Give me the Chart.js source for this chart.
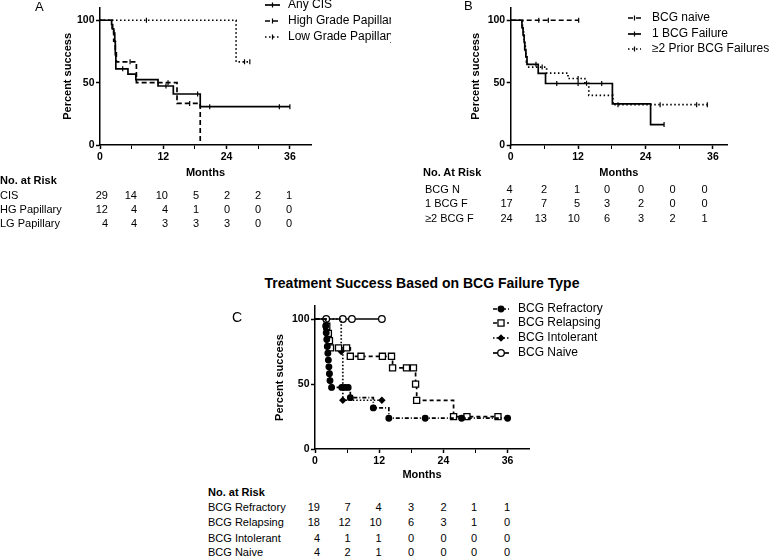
<!DOCTYPE html>
<html>
<head>
<meta charset="utf-8">
<script src="https://cdn.jsdelivr.net/npm/chart.js@4.4.0/dist/chart.umd.min.js"></script>
<style>
  body { margin: 0; background: #fff; }
  #page { position: relative; width: 769px; height: 558px; overflow: hidden; background: #fff;
          font-family: Arial, "Liberation Sans", sans-serif; color: #000; }
  canvas { position: absolute; }
  .t { position: absolute; white-space: nowrap; line-height: 1; transform: translateY(-50%); }
  .n { position: absolute; white-space: nowrap; line-height: 1; transform: translate(-100%, -50%); }
  .b { font-weight: bold; }
</style>
</head>
<body>
<div id="page">
  <canvas id="chartA" width="391" height="182" style="left:0;top:0"></canvas>
  <canvas id="chartB" width="378" height="182" style="left:391px;top:0"></canvas>
  <canvas id="chartC" width="420" height="190" style="left:200px;top:295px"></canvas>
</div>
<script>
// ---- data (months, percent success) ----

// panel A
var cisMonths = [0, 2.2, 2.4, 2.6, 2.8, 2.9, 3.0, 5.3, 6.8, 11.0, 13.9, 19.0, 36];
var cisPct    = [100, 96.6, 93.1, 89.7, 82.8, 72.4, 61.1, 56.9, 52.4, 47.3, 40.9, 30.7, 30.7];
var cisCensMonths = [4.3, 12.5, 18.5, 20.8, 34, 36];
var cisCensPct    = [61.1, 47.3, 40.9, 30.7, 30.7, 30.7];

var hgMonths = [0, 2.3, 2.6, 2.9, 3.1, 6.9, 14.6, 19.0];
var hgPct    = [100, 91.7, 83.3, 75.0, 66.7, 50.0, 33.3, 0];
var hgCensMonths = [5.7, 12.9, 17.0];
var hgCensPct    = [66.7, 50.0, 33.3];

var lgMonths = [0, 25.8, 28.4];
var lgPct    = [100, 66.7, 66.7];
var lgCensMonths = [8.8, 27.4, 28.4];
var lgCensPct    = [100, 66.7, 66.7];

// panel B
var naiveBMonths = [0, 12.1];
var naiveBPct    = [100, 100];
var naiveBCensMonths = [5.0, 6.7, 12.1];
var naiveBCensPct    = [100, 100, 100];

var oneFMonths = [0, 2.0, 2.2, 2.4, 2.5, 2.7, 2.9, 4.9, 6.2, 18.1, 24.9, 27.3];
var oneFPct    = [100, 94.1, 88.2, 82.4, 76.5, 70.6, 64.7, 57.5, 49.3, 32.9, 16.4, 16.4];
var oneFCensMonths = [4.5, 8.2, 12.0, 16.2, 27.3];
var oneFCensPct    = [64.7, 49.3, 49.3, 49.3, 16.4];

var twoFMonths = [0, 2.1, 2.2, 2.3, 2.4, 2.5, 2.6, 2.7, 2.8, 3.0, 6.4, 10.2, 13.2, 13.9, 18.2, 35];
var twoFPct    = [100, 95.8, 91.7, 87.5, 83.3, 79.2, 75.0, 70.8, 66.7, 62.5, 57.7, 53.3, 49.5, 39.8, 32.3, 32.3];
var twoFCensMonths = [5.6, 12.0, 13.5, 19.1, 26.6, 33.1, 35];
var twoFCensPct    = [62.5, 53.3, 49.5, 32.3, 32.3, 32.3, 32.3];

// panel C
var refrMonths = [0, 2.0, 2.1, 2.2, 2.3, 2.4, 2.5, 2.6, 2.7, 2.8, 3.1, 5.0, 5.6, 6.2, 6.6, 10.9, 13.8, 20.6, 27.4, 36.0];
var refrPct    = [100, 94.7, 89.5, 84.2, 78.9, 73.7, 68.4, 63.2, 57.9, 52.6, 47.4, 47.4, 47.4, 47.4, 39.5, 31.6, 23.7, 23.7, 23.7, 23.7];

var relaMonths = [0, 2.2, 2.5, 2.7, 2.9, 4.4, 5.9, 6.6, 8.6, 12.6, 14.3, 14.5, 17.1, 18.4, 18.8, 19.0, 25.9, 28.4, 34.2];
var relaPct    = [100, 94.4, 88.9, 83.3, 77.8, 77.8, 77.8, 71.3, 71.3, 71.3, 71.3, 62.4, 62.4, 62.4, 49.9, 37.4, 24.9, 24.9, 24.9];

var intoMonths = [0, 4.9, 5.2, 12.5];
var intoPct    = [100, 75.0, 37.5, 37.5];

var naiveCMonths = [0, 2.1, 5.2, 6.9, 12.5];
var naiveCPct    = [100, 100, 100, 100, 100];

// axes
var monthTicks = [0, 6, 12, 18, 24, 30, 36];
var pctTicks = [0, 50, 100];

// number at risk tables
var riskLabelsA = ['CIS', 'HG Papillary', 'LG Papillary'];
var riskCIS = [29, 14, 10, 5, 2, 2, 1];
var riskHG  = [12, 4, 4, 1, 0, 0, 0];
var riskLG  = [4, 4, 3, 3, 3, 0, 0];

var riskLabelsB = ['BCG N', '1 BCG F', '\u22652 BCG F'];
var riskNaiveB = [4, 2, 1, 0, 0, 0, 0];
var riskOneF   = [17, 7, 5, 3, 2, 0, 0];
var riskTwoF   = [24, 13, 10, 6, 3, 2, 1];

var riskLabelsC = ['BCG Refractory', 'BCG Relapsing', 'BCG Intolerant', 'BCG Naive'];
var riskRefr  = [19, 7, 4, 3, 2, 1, 1];
var riskRela  = [18, 12, 10, 6, 3, 1, 0];
var riskInto  = [4, 1, 1, 0, 0, 0, 0];
var riskNaiveC = [4, 2, 1, 0, 0, 0, 0];

// ---- helpers ----
var FONT = 'Arial, "Liberation Sans", sans-serif';

function pts(xs, ys) {
  return xs.map(function (x, i) { return { x: x, y: ys[i] }; });
}

function curve(label, xs, ys, dash) {
  return {
    label: label, inLegend: true,
    data: pts(xs, ys), stepped: 'before', fill: false,
    borderColor: '#000', borderWidth: 1.7, borderDash: dash,
    pointRadius: 0
  };
}

function censors(xs, ys) {
  return {
    data: pts(xs, ys), showLine: false,
    pointStyle: 'line', pointRotation: 90, pointRadius: 2.5,
    pointBorderColor: '#000', pointBorderWidth: 1.2
  };
}

function marked(label, xs, ys, dash, style, r, fillCol) {
  var ds = curve(label, xs, ys, dash);
  ds.pointStyle = style;
  ds.pointRadius = function (c) { return c.dataIndex === 0 ? 0 : r; };
  ds.pointBackgroundColor = fillCol;
  ds.pointBorderColor = '#000';
  ds.pointBorderWidth = 1.3;
  ds.markR = r;
  return ds;
}

function drawMark(ctx, style, x, y, r, fillCol) {
  ctx.save();
  ctx.setLineDash([]);
  ctx.lineWidth = 1.3;
  ctx.strokeStyle = '#000';
  ctx.fillStyle = fillCol || '#000';
  ctx.beginPath();
  if (style === 'circle') {
    ctx.arc(x, y, r, 0, Math.PI * 2);
    ctx.fill(); ctx.stroke();
  } else if (style === 'rect') {
    var s = r * Math.SQRT1_2;
    ctx.rect(x - s, y - s, 2 * s, 2 * s);
    ctx.fill(); ctx.stroke();
  } else if (style === 'rectRot') {
    ctx.moveTo(x, y - r); ctx.lineTo(x + r, y); ctx.lineTo(x, y + r); ctx.lineTo(x - r, y);
    ctx.closePath(); ctx.fill(); ctx.stroke();
  } else {
    ctx.lineWidth = 1.2;
    ctx.moveTo(x, y - 2.5); ctx.lineTo(x, y + 2.5); ctx.stroke();
  }
  ctx.restore();
}

// legend drawn next to the plot, like the original figure
var kmLegend = {
  id: 'kmLegend',
  afterDraw: function (chart, args, opts) {
    var ctx = chart.ctx;
    var items = chart.data.datasets.filter(function (d) { return d.inLegend; });
    ctx.save();
    items.forEach(function (ds, i) {
      var y = opts.rows[i];
      ctx.strokeStyle = '#000';
      ctx.lineWidth = ds.borderWidth;
      ctx.setLineDash(ds.borderDash || []);
      ctx.beginPath();
      ctx.moveTo(opts.x0, y);
      ctx.lineTo(opts.x1, y);
      ctx.stroke();
      drawMark(ctx, ds.markR ? ds.pointStyle : 'tick', (opts.x0 + opts.x1) / 2, y, ds.markR, ds.pointBackgroundColor);
      ctx.fillStyle = '#000';
      ctx.font = '12px ' + FONT;
      ctx.textBaseline = 'middle';
      ctx.textAlign = 'left';
      ctx.fillText(ds.label, opts.tx, y);
    });
    ctx.restore();
  }
};

function kmOptions(box, legend) {
  var tickFont = { family: FONT, size: 10.5, weight: 'bold' };
  var titleFont = { family: FONT, size: 11, weight: 'bold' };
  return {
    responsive: false,
    animation: false,
    events: [],
    layout: { padding: { left: box.padLeft, top: box.top, right: box.padRight, bottom: 0 } },
    plugins: { legend: { display: false }, tooltip: { enabled: false }, kmLegend: legend },
    scales: {
      x: {
        type: 'linear', min: 0, max: box.xMax,
        afterBuildTicks: function (s) { s.ticks = monthTicks.map(function (v) { return { value: v }; }); },
        afterFit: function (s) { s.height = box.xHeight; },
        grid: { drawOnChartArea: false, color: '#000', tickLength: 4,
                tickWidth: function (c) { return c.tick && c.tick.value % 12 === 0 ? 1.5 : 1; } },
        border: { color: '#000', width: 1.5 },
        ticks: { color: '#000', font: tickFont, padding: 1.5, maxRotation: 0, autoSkip: false,
                 callback: function (v) { return v % 12 === 0 ? String(v) : ''; } },
        title: { display: true, text: 'Months', color: '#000', font: titleFont,
                 padding: { top: 0, bottom: box.monthsPad } }
      },
      y: {
        type: 'linear', min: 0, max: 110,
        afterBuildTicks: function (s) { s.ticks = pctTicks.map(function (v) { return { value: v }; }); },
        afterFit: function (s) { s.width = box.yWidth; },
        grid: { drawOnChartArea: false, color: '#000', tickLength: 4, tickWidth: 1.5 },
        border: { color: '#000', width: 1.5 },
        ticks: { color: '#000', font: tickFont, padding: 1.5 },
        title: { display: true, text: 'Percent success', color: '#000', font: titleFont,
                 padding: { top: 1, bottom: 0 } }
      }
    }
  };
}

// ---- panel A ----
new Chart(document.getElementById('chartA'), {
  type: 'line',
  data: { datasets: [
    curve('Any CIS', cisMonths, cisPct, []),
    curve('High Grade Papillary', hgMonths, hgPct, [5, 3]),
    curve('Low Grade Papillary', lgMonths, lgPct, [1.5, 2.5]),
    censors(cisCensMonths, cisCensPct),
    censors(hgCensMonths, hgCensPct),
    censors(lgCensMonths, lgCensPct)
  ] },
  options: kmOptions({ padLeft: 60.4, yWidth: 39.6, top: 5, padRight: 80, xHeight: 37, monthsPad: 2.9, xMax: 40 },
                     { x0: 265, x1: 280, tx: 288, rows: [5, 21, 37] }),
  plugins: [kmLegend]
});

// ---- panel B ----
new Chart(document.getElementById('chartB'), {
  type: 'line',
  data: { datasets: [
    curve('BCG naive', naiveBMonths, naiveBPct, [5, 3]),
    curve('1 BCG Failure', oneFMonths, oneFPct, []),
    curve('\u22652 Prior BCG Failures', twoFMonths, twoFPct, [1.5, 2.5]),
    censors(naiveBCensMonths, naiveBCensPct),
    censors(oneFCensMonths, oneFCensPct),
    censors(twoFCensMonths, twoFCensPct)
  ] },
  options: kmOptions({ padLeft: 77.4, yWidth: 42.3, top: 5, padRight: 42, xHeight: 37, monthsPad: 2.9, xMax: 38.5 },
                     { x0: 237, x1: 250, tx: 261, rows: [18, 34, 49] }),
  plugins: [kmLegend]
});

// ---- panel C ----
new Chart(document.getElementById('chartC'), {
  type: 'line',
  data: { datasets: [
    marked('BCG Refractory', refrMonths, refrPct, [4, 2, 1, 2], 'circle', 2.8, '#000'),
    marked('BCG Relapsing', relaMonths, relaPct, [4, 3], 'rect', 4.3, '#fff'),
    marked('BCG Intolerant', intoMonths, intoPct, [1.5, 2], 'rectRot', 2.8, '#000'),
    marked('BCG Naive', naiveCMonths, naiveCPct, [], 'circle', 3.3, '#fff')
  ] },
  options: kmOptions({ padLeft: 72.4, yWidth: 42.6, top: 11, padRight: 91, xHeight: 36, monthsPad: 3.4, xMax: 40 },
                     { x0: 293, x1: 309, tx: 318, rows: [14, 28, 43, 58] }),
  plugins: [kmLegend]
});

// ---- labels, title and number-at-risk tables ----
var page = document.getElementById('page');
function text(str, x, y, size, cls) {
  var d = document.createElement('div');
  d.className = 't' + (cls ? ' ' + cls : '');
  d.style.left = x + 'px';
  d.style.top = y + 'px';
  d.style.fontSize = size + 'px';
  d.textContent = str;
  page.appendChild(d);
  return d;
}
function num(v, x, y) {
  var d = document.createElement('div');
  d.className = 'n';
  d.style.left = x + 'px';
  d.style.top = y + 'px';
  d.style.fontSize = '11px';
  d.textContent = v;
  page.appendChild(d);
}
function riskTable(head, hx, hy, labels, rows, lx, ys, cols) {
  text(head, hx, hy, 11, 'b');
  labels.forEach(function (lab, i) {
    text(lab, lx, ys[i], 11);
    rows[i].forEach(function (v, j) { num(v, cols[j], ys[i]); });
  });
}

text('A', 35, 6, 13);
text('B', 464, 5, 13);
text('C', 232, 317, 14);
var ttl = text('Treatment Success Based on BCG Failure Type', 422, 283, 14, 'b');
ttl.style.transform = 'translate(-50%, -50%)';

riskTable('No. at Risk', 0, 180, riskLabelsA, [riskCIS, riskHG, riskLG], 0, [195, 209, 223],
          [108, 137, 168, 199, 230, 261, 292]);
riskTable('No. At Risk', 423, 172, riskLabelsB, [riskNaiveB, riskOneF, riskTwoF], 425, [189, 203, 218],
          [512.7, 547, 580, 610, 644, 675.7, 707.7]);
riskTable('No. at Risk', 208, 492, riskLabelsC, [riskRefr, riskRela, riskInto, riskNaiveC], 208, [507, 522, 538, 552],
          [320, 350.7, 381.7, 414, 446.7, 477, 510]);
</script>
</body>
</html>
